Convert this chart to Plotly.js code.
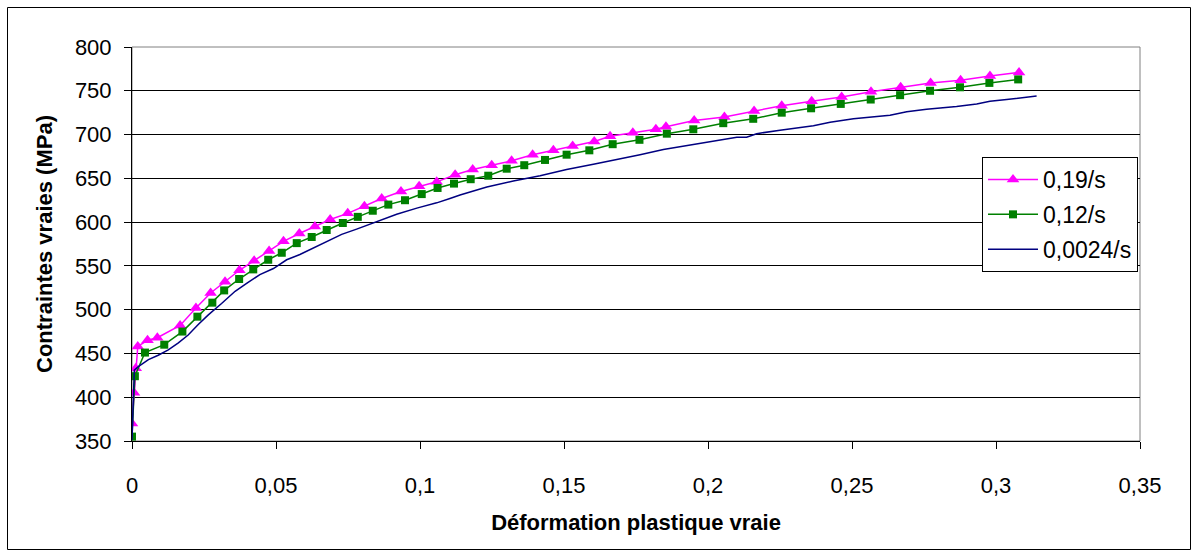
<!DOCTYPE html>
<html>
<head>
<meta charset="utf-8">
<script src="https://cdn.plot.ly/plotly-3.0.1.min.js"></script>
<style>
  html, body { margin: 0; padding: 0; background: #fff; }
  #chart { width: 1197px; height: 556px; }
</style>
</head>
<body>
<div id="chart"></div>
<script>
// ---- Data ----
const seriesNames = ["0,19/s", "0,12/s", "0,0024/s"];

const strain019 = [0, 0.0007, 0.0013, 0.002, 0.0054, 0.0088, 0.0167, 0.0222, 0.0273, 0.0323, 0.0373, 0.0424, 0.0476, 0.0526, 0.0581, 0.0635, 0.0688, 0.0749, 0.0807, 0.0867, 0.0934, 0.0997, 0.1058, 0.1122, 0.1183, 0.1249, 0.1318, 0.1391, 0.1463, 0.153, 0.1605, 0.166, 0.1739, 0.1819, 0.1854, 0.1952, 0.2057, 0.216, 0.2256, 0.236, 0.2464, 0.2566, 0.2669, 0.2773, 0.2877, 0.2979, 0.308];
const stress019 = [370, 405, 433, 458, 465, 468, 482, 502, 519, 532, 545, 556, 567, 578, 587, 595, 603, 610, 618, 627, 635, 641, 646, 654, 660, 665, 670, 677, 682, 687, 692, 698, 702, 706, 709, 716, 720, 727, 733, 738, 743, 749, 754, 759, 762, 767, 771];

const strain012 = [0, 0.001, 0.0045, 0.0112, 0.0175, 0.0227, 0.0279, 0.032, 0.0372, 0.0421, 0.0473, 0.052, 0.0572, 0.0624, 0.0676, 0.0732, 0.0784, 0.0836, 0.089, 0.0948, 0.1006, 0.1061, 0.1118, 0.1176, 0.1237, 0.1301, 0.1362, 0.1434, 0.1509, 0.1588, 0.1669, 0.1762, 0.1857, 0.1949, 0.2053, 0.2157, 0.2256, 0.2358, 0.2461, 0.2565, 0.2667, 0.2771, 0.2875, 0.2977, 0.3077];
const stress012 = [355, 424, 451, 460, 475, 492, 508, 522, 535, 546, 557, 565, 576, 583, 591, 599, 606, 613, 620, 625, 632, 639, 644, 649, 653, 661, 665, 671, 677, 682, 689, 694, 701, 706, 713, 718, 725, 730, 735, 740, 745, 750, 754, 759, 763];

const strain0024 = [0, 0.0008, 0.0022, 0.0057, 0.0091, 0.0126, 0.0161, 0.0195, 0.023, 0.0265, 0.0311, 0.0358, 0.0398, 0.0444, 0.0491, 0.0537, 0.0583, 0.0653, 0.0728, 0.078, 0.0844, 0.0919, 0.0989, 0.1058, 0.1104, 0.1139, 0.1232, 0.1324, 0.1417, 0.1509, 0.1602, 0.1694, 0.1764, 0.1845, 0.1938, 0.203, 0.21, 0.2134, 0.2169, 0.225, 0.2366, 0.2424, 0.2505, 0.2632, 0.269, 0.2759, 0.2863, 0.2933, 0.2979, 0.3037, 0.3083, 0.3141];
const stress0024 = [351, 431, 435, 443, 448, 454, 462, 471, 483, 494, 507, 521, 530, 540, 547, 557, 563, 574, 586, 592, 600, 609, 616, 622, 627, 631, 640, 647, 653, 660, 666, 672, 677, 683, 688, 693, 697, 697, 701, 705, 710, 714, 718, 722, 726, 729, 732, 735, 738, 740, 742, 744];

const xTickVals = [0, 0.05, 0.1, 0.15, 0.2, 0.25, 0.3, 0.35];
const xTickText = ["0", "0,05", "0,1", "0,15", "0,2", "0,25", "0,3", "0,35"];
const yTickVals = [350, 400, 450, 500, 550, 600, 650, 700, 750, 800];

const xTitle = "Déformation plastique vraie";
const yTitle = "Contraintes vraies (MPa)";

// ---- Chart ----
const FONT = "Liberation Sans, Arial, sans-serif";

const traces = [
  {
    x: strain019, y: stress019, name: seriesNames[0], legendgroup: "a",
    type: "scatter", mode: "lines+markers",
    line: { color: "#FF00FF", width: 1.5 },
    marker: { symbol: "triangle-up", size: 11, color: "#FF00FF" }
  },
  {
    x: strain012, y: stress012, name: seriesNames[1], legendgroup: "b",
    type: "scatter", mode: "lines+markers",
    line: { color: "#008000", width: 1.5 },
    marker: { symbol: "square", size: 8, color: "#008000" }
  },
  {
    x: strain0024, y: stress0024, name: seriesNames[2], legendgroup: "c",
    type: "scatter", mode: "lines",
    line: { color: "#000080", width: 1.5 }
  }
];

const L = 132, R = 57, T = 47, B = 115;
const W = 1197, H = 556;
const pw = W - L - R, ph = H - T - B;
function px2x(p) { return (p - L) / pw; }
function py2y(p) { return (H - B - p) / ph; }

const layout = {
  width: W, height: H,
  margin: { l: L, r: R, t: T, b: B, pad: 0 },
  paper_bgcolor: "#ffffff",
  plot_bgcolor: "#ffffff",
  font: { family: FONT, size: 22, color: "#000000" },
  showlegend: true,
  xaxis: {
    range: [0, 0.35],
    tickvals: xTickVals, ticktext: xTickText,
    ticks: "outside", ticklen: 7, tickwidth: 1, tickcolor: "#000",
    showline: true, linecolor: "#000", linewidth: 1,
    showgrid: false, zeroline: false,
    tickfont: { family: FONT, size: 22, color: "#000" },
    ticklabelstandoff: 18,
    title: { text: xTitle, font: { family: FONT, size: 22, color: "#000", weight: "bold" }, standoff: 17 },
    fixedrange: true
  },
  yaxis: {
    range: [350, 800],
    tickvals: yTickVals,
    ticks: "outside", ticklen: 7, tickwidth: 1, tickcolor: "#000",
    showline: true, linecolor: "#000", linewidth: 1,
    showgrid: true, gridcolor: "#000000", gridwidth: 1,
    zeroline: false,
    tickfont: { family: FONT, size: 22, color: "#000" },
    ticklabelstandoff: 8,
    title: { text: yTitle, font: { family: FONT, size: 22, color: "#000", weight: "bold" }, standoff: 16 },
    fixedrange: true
  },
  legend: {
    x: px2x(982), y: py2y(157), xanchor: "left", yanchor: "top",
    bgcolor: "#ffffff", bordercolor: "#000000", borderwidth: 1,
    font: { family: FONT, size: 23, color: "#000" },
    traceorder: "grouped", tracegroupgap: 2, itemwidth: 50
  },
  shapes: [
    // plot-area border (right/top grey edges)
    { type: "rect", xref: "paper", yref: "paper", x0: 0, x1: 1, y0: 0, y1: 1,
      line: { color: "#808080", width: 1 }, layer: "below" },
    // outer chart frame
    { type: "rect", xref: "paper", yref: "paper",
      x0: px2x(7.5), x1: px2x(1190.5), y0: py2y(549.5), y1: py2y(7.5),
      line: { color: "#000000", width: 1 } }
  ]
};

Plotly.newPlot("chart", traces, layout, { displayModeBar: false, staticPlot: true });
</script>
</body>
</html>
